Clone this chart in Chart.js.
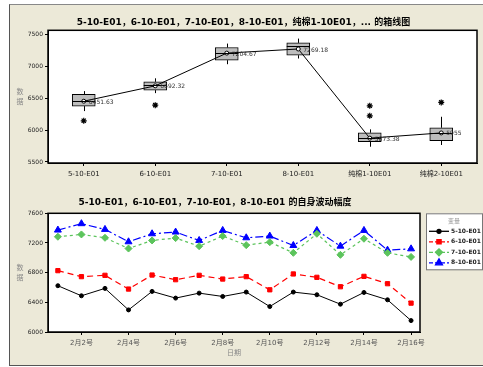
<!DOCTYPE html>
<html>
<head>
<meta charset="utf-8">
<script src="https://cdn.jsdelivr.net/npm/chart.js@4.4.1/dist/chart.umd.min.js"></script>
<style>
  html, body { margin: 0; padding: 0; background: #fff; }
  #frame { position: absolute; left: 9px; top: 4px; width: 480px; height: 360px; background: #ece9d8;
           border-left: 1px solid #555; border-top: 1px solid #888; border-bottom: 1px solid #555; }
  canvas { position: absolute; }
  #boxChart { left: 10px; top: 5px; }
  #lineChart { left: 10px; top: 190px; }
</style>
</head>
<body>
<div id="frame"></div>
<canvas id="boxChart" width="473" height="185"></canvas>
<canvas id="lineChart" width="473" height="175"></canvas>
<script>
// --- box plot data ---
const boxTitle = '5-10-E01，6-10-E01，7-10-E01，8-10-E01，纯棉1-10E01，... 的箱线图';
const boxLabels = ['5-10-E01', '6-10-E01', '7-10-E01', '8-10-E01', '纯棉1-10E01', '纯棉2-10E01'];
const whiskerLow = [6297, 6578, 7031, 7120, 5739, 5766];
const q1 = [6375, 6625, 7094, 7172, 5817, 5833];
const median = [6455, 6703, 7214, 7312, 5880, 5948];
const q3 = [6558, 6755, 7292, 7365, 5958, 6036];
const whiskerHigh = [6610, 6810, 7354, 7432, 6011, 6208];
const means = [6451.63, 6692.32, 7204.67, 7269.18, 5873.38, 5955];
const meanText = ['6451.63', '6692.32', '7204.67', '7269.18', '5873.38', '5955'];
const outlierCats = ['5-10-E01', '6-10-E01', '纯棉1-10E01', '纯棉1-10E01', '纯棉2-10E01'];
const outlierValues = [6145, 6390, 6380, 6223, 6433];
const boxTicks = [5500, 6000, 6500, 7000, 7500];

// --- line chart data ---
const lineTitle = '5-10-E01，6-10-E01，7-10-E01，8-10-E01 的自身波动幅度';
const days = [1, 2, 3, 4, 5, 6, 7, 8, 9, 10, 11, 12, 13, 14, 15, 16];
const dayTicks = [2, 4, 6, 8, 10, 12, 14, 16];
const seriesNames = ['5-10-E01', '6-10-E01', '7-10-E01', '8-10-E01'];
const s5 = [6624, 6488, 6588, 6298, 6547, 6457, 6524, 6479, 6538, 6343, 6538, 6502, 6375, 6533, 6434, 6154];
const s6 = [6827, 6746, 6764, 6579, 6768, 6705, 6764, 6714, 6746, 6569, 6782, 6737, 6610, 6750, 6651, 6389];
const s7 = [7284, 7315, 7270, 7125, 7234, 7266, 7157, 7293, 7171, 7211, 7067, 7324, 7040, 7257, 7067, 7012];
const s8 = [7374, 7460, 7383, 7216, 7324, 7347, 7234, 7369, 7270, 7293, 7166, 7369, 7157, 7369, 7103, 7121];
const lineTicks = [6000, 6400, 6800, 7200, 7600];

Chart.defaults.font.family = "'DejaVu Sans', 'Noto Sans CJK SC', sans-serif";

// white plot area with a black frame, and a stacked vertical y title
const plotFrame = {
  id: 'plotFrame',
  beforeDraw(chart) {
    const a = chart.chartArea, ctx = chart.ctx;
    ctx.save();
    ctx.fillStyle = '#fff';
    ctx.fillRect(a.left, a.top, a.right - a.left, a.bottom - a.top);
    ctx.restore();
  },
  afterDraw(chart) {
    const a = chart.chartArea, ctx = chart.ctx;
    ctx.save();
    ctx.strokeStyle = '#000';
    ctx.lineWidth = 1.5;
    ctx.strokeRect(a.left, a.top, a.right - a.left, a.bottom - a.top);
    // y title "数据" written top to bottom
    ctx.fillStyle = '#888';
    ctx.font = "7px 'Noto Sans CJK SC'";
    ctx.textAlign = 'center';
    ctx.textBaseline = 'middle';
    const mid = (a.top + a.bottom) / 2;
    ctx.fillText('数', 10, mid - 5);
    ctx.fillText('据', 10, mid + 5);
    ctx.restore();
  }
};

const boxParts = {
  id: 'boxParts',
  beforeDatasetsDraw(chart) {
    const {ctx, scales: {x, y}} = chart;
    ctx.save();
    ctx.strokeStyle = '#000';
    ctx.lineWidth = 1;
    boxLabels.forEach((c, i) => {
      const px = Math.round(x.getPixelForValue(i)) + 0.5;
      ctx.beginPath();
      ctx.moveTo(px, y.getPixelForValue(whiskerHigh[i]));
      ctx.lineTo(px, y.getPixelForValue(q3[i]));
      ctx.moveTo(px, y.getPixelForValue(q1[i]));
      ctx.lineTo(px, y.getPixelForValue(whiskerLow[i]));
      ctx.stroke();
    });
    ctx.restore();
  },
  afterDatasetsDraw(chart) {
    const {ctx, scales: {x, y}} = chart;
    ctx.save();
    ctx.strokeStyle = '#000';
    ctx.lineWidth = 1;
    ctx.fillStyle = '#333';
    ctx.font = '6px DejaVu Sans';
    ctx.textBaseline = 'middle';
    boxLabels.forEach((c, i) => {
      const px = x.getPixelForValue(i);
      const py = Math.round(y.getPixelForValue(median[i])) + 0.5;
      ctx.beginPath();
      ctx.moveTo(px - 11.5, py);
      ctx.lineTo(px + 11.5, py);
      ctx.stroke();
      ctx.fillText(meanText[i], px + 5, y.getPixelForValue(means[i]) + 1);
    });
    ctx.restore();
  }
};

const axisGrid = { display: true, drawOnChartArea: false, drawTicks: true, tickLength: 3, color: '#000', offset: false };

new Chart(document.getElementById('boxChart'), {
  type: 'bar',
  data: {
    labels: boxLabels,
    datasets: [
      {
        type: 'line',
        data: means,
        borderColor: '#000',
        borderWidth: 1,
        pointRadius: 2,
        pointStyle: 'circle',
        pointBackgroundColor: '#fff',
        pointBorderColor: '#000',
        order: 0
      },
      {
        type: 'line',
        data: outlierCats.map((c, i) => ({x: c, y: outlierValues[i]})),
        showLine: false,
        pointStyle: 'star',
        pointRadius: 3,
        pointBorderColor: '#000',
        pointBorderWidth: 1.2,
        order: 1
      },
      {
        type: 'bar',
        data: boxLabels.map((c, i) => [q1[i], q3[i]]),
        backgroundColor: '#bdbdbd',
        borderColor: '#000',
        borderWidth: 1,
        borderSkipped: false,
        barThickness: 23,
        order: 2
      }
    ]
  },
  options: {
    responsive: false,
    animation: false,
    layout: { padding: { left: 0, right: 6, top: 0, bottom: 0 } },
    plugins: {
      legend: { display: false },
      tooltip: { enabled: false },
      title: {
        display: true, text: boxTitle, color: '#000',
        font: { size: 9, weight: 'bold' },
        padding: { top: 12, bottom: 2.5 }
      }
    },
    scales: {
      x: {
        offset: true,
        grid: axisGrid,
        border: { color: '#000' },
        ticks: { color: '#222', font: { size: 7 }, padding: 4, maxRotation: 0, autoSkip: false },
        afterFit: s => { s.height = 27; }
      },
      y: {
        min: 5484,
        max: 7562,
        afterBuildTicks: s => { s.ticks = boxTicks.map(v => ({value: v})); },
        grid: axisGrid,
        border: { color: '#000' },
        ticks: { color: '#222', font: { size: 6 }, padding: 2, callback: v => String(v) },
        afterFit: s => { s.width = 38; }
      }
    }
  },
  plugins: [plotFrame, boxParts]
});

// --- line chart ---
const seriesStyle = [
  { color: '#000000', dash: [], point: 'circle', r: 2 },
  { color: '#ff0000', dash: [6, 4], point: 'rect', r: 3 },
  { color: '#5cc45c', dash: [3, 3], point: 'rectRot', r: 3.5 },
  { color: '#0000ff', dash: [8, 3, 2, 3], point: 'triangle', r: 4 }
];
const seriesData = [s5, s6, s7, s8];

const boxLegend = {
  id: 'boxLegend',
  afterDraw(chart) {
    const ctx = chart.ctx, a = chart.chartArea;
    const left = a.right + 6, top = a.top, w = 56, h = 56;
    ctx.save();
    ctx.fillStyle = '#fff';
    ctx.fillRect(left, top, w, h);
    ctx.strokeStyle = '#777';
    ctx.lineWidth = 1;
    ctx.strokeRect(left + 0.5, top + 0.5, w, h);
    ctx.fillStyle = '#999';
    ctx.font = "6px 'Noto Sans CJK SC'";
    ctx.textAlign = 'center';
    ctx.textBaseline = 'middle';
    ctx.fillText('变量', left + w / 2, top + 7);
    ctx.textAlign = 'left';
    seriesNames.forEach((name, i) => {
      const st = seriesStyle[i];
      const cy = top + 18 + i * 10.5;
      ctx.strokeStyle = st.color;
      ctx.fillStyle = st.color;
      ctx.lineWidth = 1.3;
      ctx.setLineDash(st.dash.length ? [4, 2] : []);
      ctx.beginPath();
      ctx.moveTo(left + 3, cy);
      ctx.lineTo(left + 23, cy);
      ctx.stroke();
      ctx.setLineDash([]);
      Chart.helpers.drawPoint(ctx, { pointStyle: st.point, radius: st.r, borderWidth: 1, rotation: 0 }, left + 13, cy);
      ctx.fillStyle = '#222';
      ctx.font = 'bold 6px DejaVu Sans';
      ctx.fillText(name, left + 25, cy);
    });
    ctx.restore();
  }
};

new Chart(document.getElementById('lineChart'), {
  type: 'line',
  data: {
    datasets: seriesNames.map((name, i) => ({
      label: name,
      data: days.map((d, j) => ({x: d, y: seriesData[i][j]})),
      borderColor: seriesStyle[i].color,
      backgroundColor: seriesStyle[i].color,
      borderWidth: i === 0 ? 1 : 1.2,
      borderDash: seriesStyle[i].dash,
      pointStyle: seriesStyle[i].point,
      pointRadius: seriesStyle[i].r,
      pointBorderWidth: 1,
      tension: 0
    }))
  },
  options: {
    responsive: false,
    animation: false,
    layout: { padding: { left: 0, right: 63, top: 0, bottom: 0 } },
    plugins: {
      legend: { display: false },
      tooltip: { enabled: false },
      title: {
        display: true, text: lineTitle, color: '#000',
        font: { size: 9, weight: 'bold' },
        padding: { top: 7, bottom: 5.5 }
      }
    },
    scales: {
      x: {
        type: 'linear',
        min: 0.58,
        max: 16.38,
        afterBuildTicks: s => { s.ticks = dayTicks.map(v => ({value: v})); },
        grid: axisGrid,
        border: { color: '#000' },
        ticks: { color: '#555', font: { size: 7 }, padding: 4, maxRotation: 0, autoSkip: false,
                 callback: v => '2月' + v + '号' },
        title: { display: true, text: '日期', color: '#888', font: { size: 7 }, padding: { top: 0, bottom: 8 } },
        afterFit: s => { s.height = 33; }
      },
      y: {
        min: 6000,
        max: 7600,
        afterBuildTicks: s => { s.ticks = lineTicks.map(v => ({value: v})); },
        grid: axisGrid,
        border: { color: '#000' },
        ticks: { color: '#222', font: { size: 6 }, padding: 2, callback: v => String(v) },
        afterFit: s => { s.width = 38; }
      }
    }
  },
  plugins: [plotFrame, boxLegend]
});
</script>
</body>
</html>
